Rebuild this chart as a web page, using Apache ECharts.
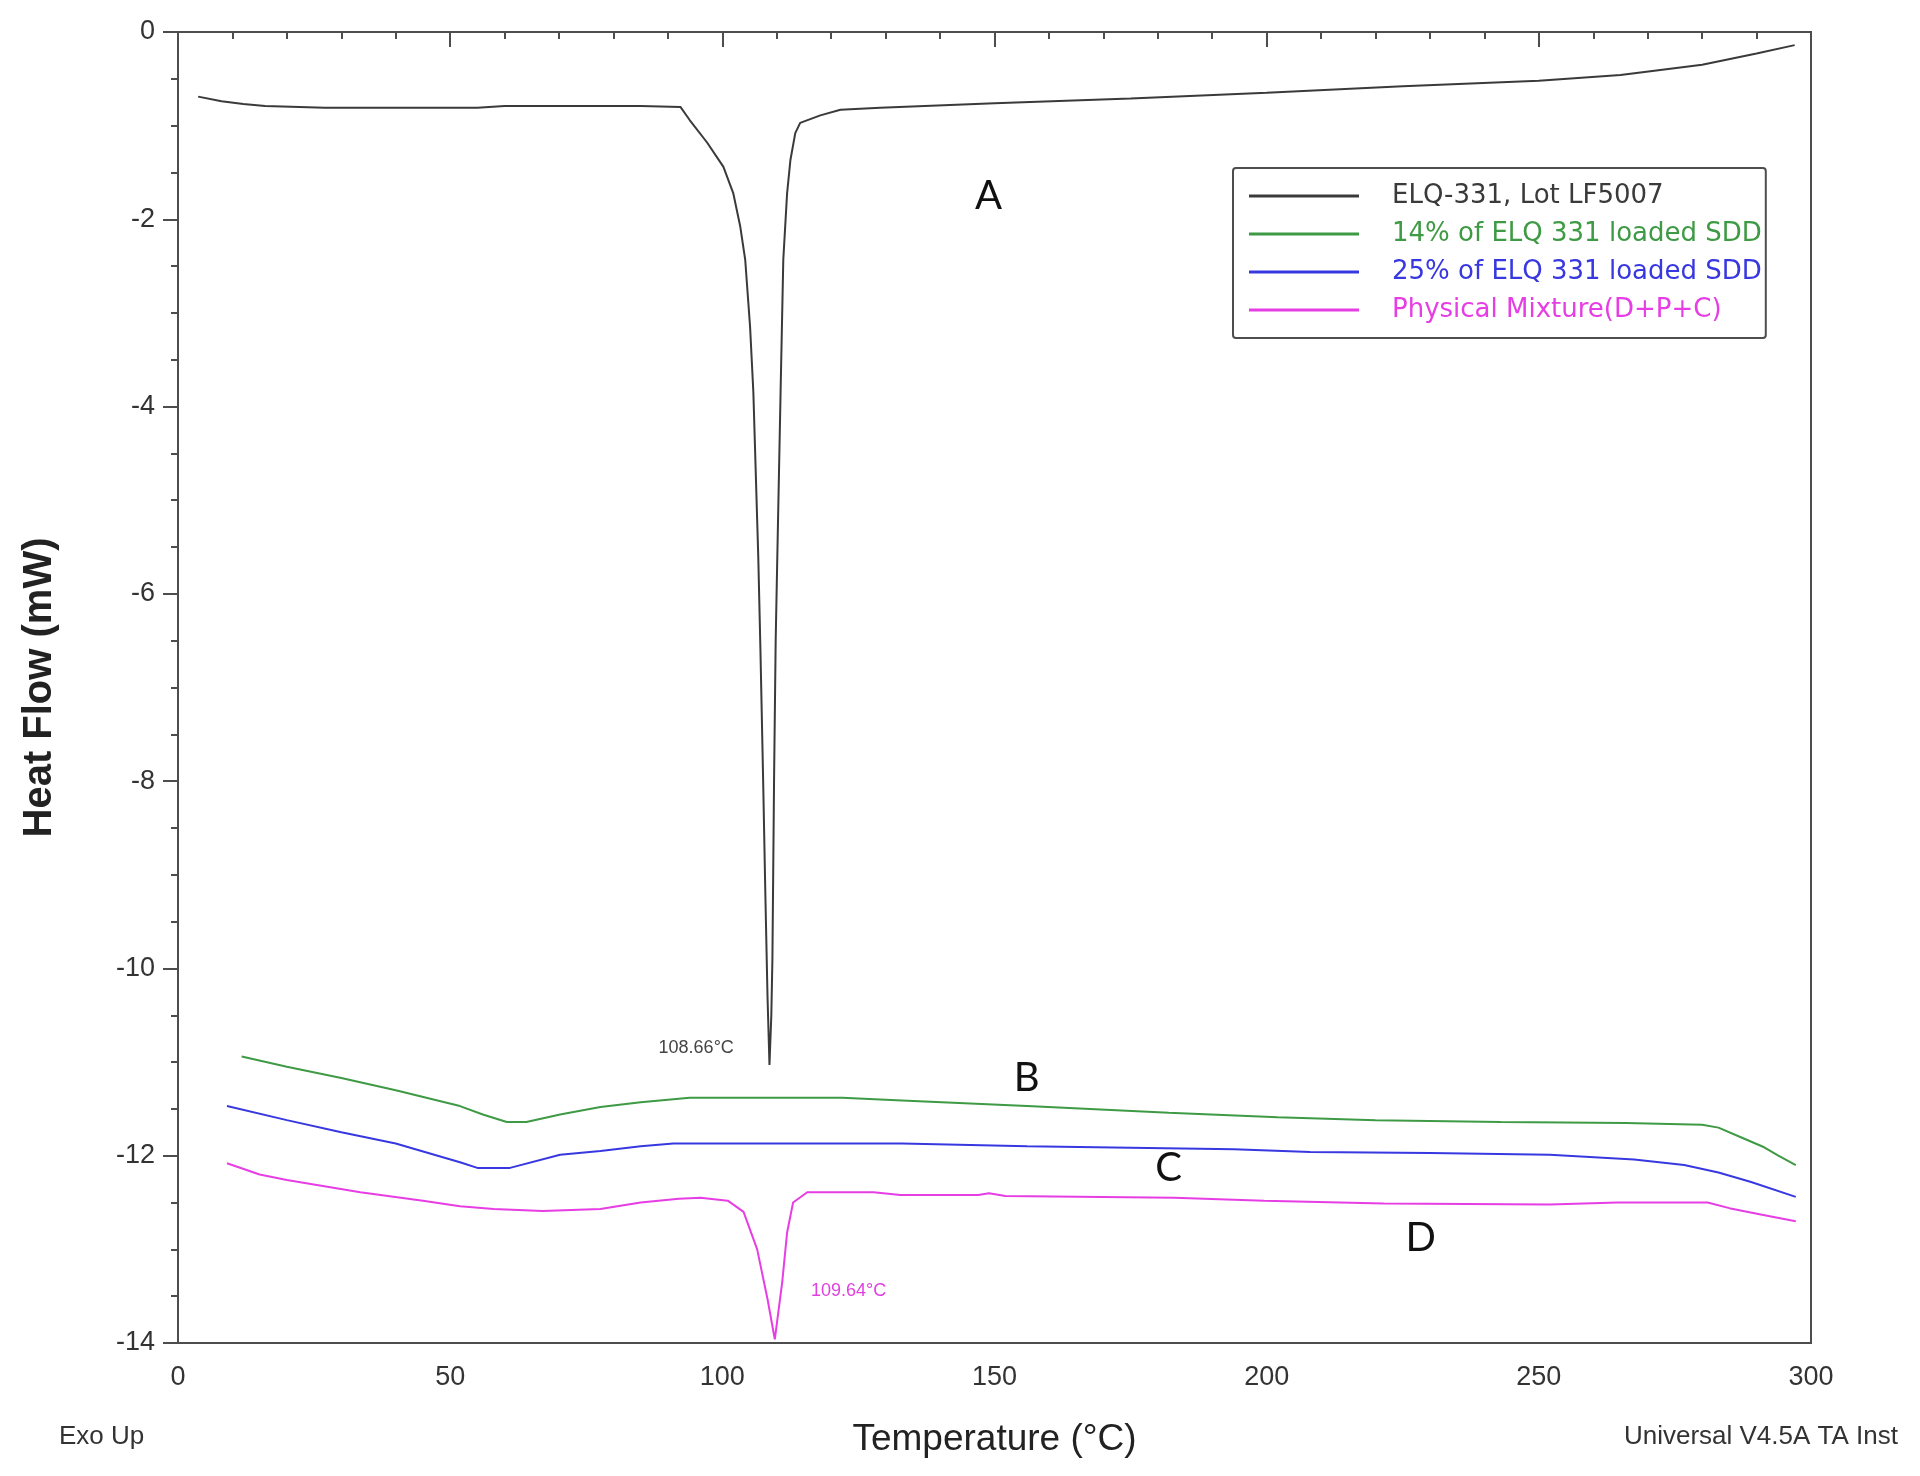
<!DOCTYPE html>
<html>
<head>
<meta charset="utf-8">
<title>DSC thermogram</title>
<script src="https://cdn.jsdelivr.net/npm/echarts@6/dist/echarts.min.js"></script>
<style>
  html, body { margin: 0; padding: 0; background: #fff; }
  #chart { width: 1920px; height: 1476px; }
</style>
</head>
<body>
<div id="chart"></div>
<script>
// series names, as in the legend
const seriesNames = [
  'ELQ-331, Lot LF5007',
  '14% of ELQ 331 loaded SDD',
  '25% of ELQ 331 loaded SDD',
  'Physical Mixture(D+P+C)'
]

// A: pure drug, sharp melting endotherm at 108.66 °C
const tempA = [3.7, 8, 12, 16, 27, 55, 60, 85, 92.3, 94, 97.2, 100.2, 102, 103.3, 104.2, 105.1, 105.7, 106.6, 107.0, 107.5, 107.9, 108.3, 108.66,
  109.0, 109.2, 109.5, 109.8, 110.1, 110.7, 111.2, 111.9, 112.5, 113.4, 114.3, 118, 121.7, 129, 150, 175, 200, 225, 250, 265, 280, 290, 297]
const flowA = [-0.69, -0.74, -0.77, -0.79, -0.81, -0.81, -0.79, -0.79, -0.80, -0.94, -1.18, -1.44, -1.72, -2.08, -2.43, -3.15, -3.85, -5.6, -6.6, -8.0, -9.2, -10.3, -11.03,
  -10.5, -9.9, -8.0, -6.5, -5.6, -3.85, -2.43, -1.72, -1.37, -1.08, -0.97, -0.89, -0.83, -0.81, -0.76, -0.71, -0.65, -0.58, -0.52, -0.46, -0.35, -0.23, -0.14]

// B: 14% loaded SDD
const tempB = [11.7, 20, 30, 40, 51.8, 56, 60.4, 64, 70.2, 77.6, 85, 94, 122, 133, 156, 182, 202, 220, 243, 266, 280, 283, 287, 291.4, 294, 297.2]
const flowB = [-10.94, -11.05, -11.17, -11.3, -11.47, -11.56, -11.64, -11.64, -11.56, -11.48, -11.43, -11.38, -11.38, -11.41, -11.47, -11.54, -11.59, -11.62, -11.64, -11.65, -11.67, -11.70, -11.8, -11.91, -12.0, -12.1]

// C: 25% loaded SDD
const tempC = [9, 20, 30, 40, 51.8, 55, 61, 70.2, 77.6, 85, 91, 133, 156, 194, 208, 230, 252, 267.5, 276.7, 283, 289, 297.2]
const flowC = [-11.47, -11.62, -11.75, -11.87, -12.07, -12.13, -12.13, -11.99, -11.95, -11.9, -11.87, -11.87, -11.9, -11.93, -11.96, -11.97, -11.99, -12.04, -12.1, -12.18, -12.28, -12.44]

// D: physical mixture, small endotherm at 109.64 °C
const tempD = [9, 15, 20, 33.5, 45, 51.8, 58, 67, 77.6, 85, 92, 96, 101, 103.9, 106.4, 108.3, 109.64, 111, 111.9, 113, 115.6, 127.8, 132.7,
  147, 149, 152, 183, 199.5, 221.5, 252, 264.5, 281, 285, 291, 297.2]
const flowD = [-12.08, -12.2, -12.26, -12.39, -12.48, -12.54, -12.57, -12.59, -12.57, -12.5, -12.46, -12.45, -12.48, -12.6, -13.0, -13.53, -13.96, -13.35, -12.82, -12.5, -12.39, -12.39, -12.42,
  -12.42, -12.40, -12.43, -12.45, -12.48, -12.51, -12.52, -12.50, -12.50, -12.56, -12.63, -12.70]

const colors = ['#3a3a3a', '#3f9a45', '#3838e0', '#e63ee4']
const axisColor = '#4d4d4d'
const tickFont = 'Arial, "Liberation Sans", sans-serif'

function pairs(xs, ys) {
  return xs.map((x, i) => [x, ys[i]])
}

// plain text annotation placed at a data coordinate
function tag(text, coord, size, color, family) {
  return {
    name: text,
    coord: coord,
    symbol: 'circle',
    symbolSize: 0,
    label: { show: true, position: 'inside', formatter: text, fontSize: size, color: color, fontFamily: family }
  }
}

function line(idx, data, tags) {
  return {
    name: seriesNames[idx],
    type: 'line',
    data: data,
    showSymbol: false,
    smooth: false,
    animation: false,
    lineStyle: { width: 2, color: colors[idx] },
    itemStyle: { color: colors[idx] },
    markPoint: { silent: true, animation: false, data: tags }
  }
}

const chart = echarts.init(document.getElementById('chart'))

chart.setOption({
  animation: false,
  backgroundColor: '#fff',
  grid: {
    left: 178, right: 109, top: 32, bottom: 133,
    show: true, borderColor: axisColor, borderWidth: 2
  },
  legend: {
    orient: 'vertical',
    left: 1233, top: 168,
    padding: [15, 4, 15, 16],
    itemWidth: 110, itemHeight: 3, itemGap: 12,
    icon: 'rect',
    backgroundColor: '#fff',
    borderColor: axisColor, borderWidth: 2, borderRadius: 3,
    textStyle: { fontFamily: '"DejaVu Sans", sans-serif', fontSize: 26, lineHeight: 26, padding: [0, 0, 0, 28] },
    data: seriesNames.map((n, i) => ({ name: n, textStyle: { color: colors[i] } }))
  },
  xAxis: {
    type: 'value',
    min: 0, max: 300, interval: 50,
    name: 'Temperature (°C)',
    nameLocation: 'middle',
    nameGap: 78,
    nameTextStyle: { fontFamily: tickFont, fontSize: 37, color: '#222' },
    axisLine: { lineStyle: { color: axisColor, width: 2 } },
    axisTick: { length: 15, lineStyle: { color: axisColor, width: 2 } },
    minorTick: { show: true, splitNumber: 5, length: 7, lineStyle: { color: axisColor, width: 2 } },
    splitLine: { show: false },
    axisLabel: { fontFamily: tickFont, fontSize: 27, color: '#333', margin: 21 }
  },
  yAxis: {
    type: 'value',
    min: -14, max: 0, interval: 2,
    name: 'Heat Flow (mW)',
    nameLocation: 'middle',
    nameGap: 118,
    nameTextStyle: { fontFamily: tickFont, fontSize: 40, fontWeight: 'bold', color: '#222' },
    axisLine: { lineStyle: { color: axisColor, width: 2 } },
    axisTick: { length: 15, lineStyle: { color: axisColor, width: 2 } },
    minorTick: { show: true, splitNumber: 4, length: 7, lineStyle: { color: axisColor, width: 2 } },
    splitLine: { show: false },
    axisLabel: { fontFamily: tickFont, fontSize: 27, color: '#333', margin: 23 }
  },
  graphic: [
    { type: 'text', left: 59, top: 1424, style: { text: 'Exo Up', font: '26px Arial, "Liberation Sans", sans-serif', fill: '#333' } },
    { type: 'text', right: 22, top: 1424, style: { text: 'Universal V4.5A TA Inst', font: '26px Arial, "Liberation Sans", sans-serif', fill: '#333' } }
  ],
  series: [
    line(0, pairs(tempA, flowA), [
      tag('A', [148.9, -1.75], 40, '#111', 'Lato, sans-serif'),
      tag('108.66°C', [95.2, -10.85], 18, '#444', tickFont)
    ]),
    line(1, pairs(tempB, flowB), [tag('B', [155.9, -11.17], 40, '#111', 'Lato, sans-serif')]),
    line(2, pairs(tempC, flowC), [tag('C', [182.0, -12.13], 40, '#111', 'Lato, sans-serif')]),
    line(3, pairs(tempD, flowD), [
      tag('D', [228.3, -12.88], 40, '#111', 'Lato, sans-serif'),
      tag('109.64°C', [123.2, -13.45], 18, '#e040e0', tickFont)
    ])
  ]
})
</script>
</body>
</html>
